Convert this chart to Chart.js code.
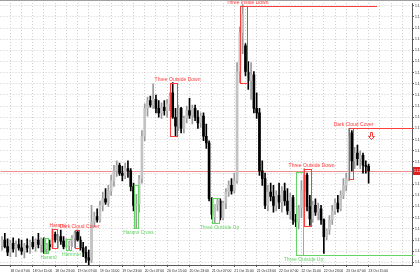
<!DOCTYPE html>
<html>
<head>
<meta charset="utf-8">
<script src="https://cdn.jsdelivr.net/npm/chart.js@4"></script>
<style>
  html, body { margin: 0; padding: 0; background: #fff; }
  canvas { display: block; }
</style>
</head>
<body>
<canvas id="chart" width="420" height="280"></canvas>
<script>
// hourly candles, 18 Oct 04:00 .. 23 Oct 15:00
const opens = [1.1155,1.1160,1.1154,1.1149,1.1157,1.1152,1.1156,1.1153,1.1150,1.1155,1.1153,1.1158,1.1154,1.1160,1.1156,1.1161,1.1152,1.1156,1.1154,1.1165,
  1.1160,1.1163,1.1159,1.1154,1.1155,1.1158,1.1162,1.1167,1.1160,1.1153,1.1149,1.1144,1.1142,1.1176,1.1181,1.1178,1.1191,1.1197,1.1194,1.1204,
  1.1213,1.1222,1.1227,1.1220,1.1218,1.1224,1.1222,1.1208,1.1191,1.1192,1.1215,1.1253,1.1278,1.1285,1.1281,1.1286,1.1278,1.1274,1.1279,1.1276,
  1.1282,1.1292,1.1270,1.1262,1.1278,1.1260,1.1269,1.1276,1.1272,1.1278,1.1270,1.1265,1.1271,1.1253,1.1247,1.1197,1.1181,1.1192,1.1195,1.1180,
  1.1193,1.1203,1.1209,1.1204,1.1213,1.1311,1.1346,1.1334,1.1310,1.1303,1.1308,1.1278,1.1274,1.1222,1.1215,1.1191,1.1203,1.1199,1.1191,1.1200,
  1.1194,1.1204,1.1195,1.1186,1.1198,1.1178,1.1176,1.1189,1.1204,1.1218,1.1190,1.1179,1.1191,1.1185,1.1188,1.1178,1.1163,1.1169,1.1178,1.1186,
  1.1193,1.1188,1.1200,1.1209,1.1215,1.1256,1.1231,1.1238,1.1233,1.1236,1.1227,1.1226];
const highs = [1.1163,1.1166,1.1161,1.1160,1.1162,1.1159,1.1161,1.1160,1.1157,1.1161,1.1160,1.1163,1.1161,1.1166,1.1162,1.1162,1.1157,1.1160,1.1170,1.1167,
  1.1165,1.1169,1.1163,1.1161,1.1159,1.1164,1.1168,1.1169,1.1163,1.1158,1.1154,1.1151,1.1191,1.1185,1.1188,1.1195,1.1203,1.1206,1.1209,1.1218,
  1.1227,1.1231,1.1229,1.1226,1.1229,1.1231,1.1224,1.1211,1.1201,1.1218,1.1258,1.1282,1.1288,1.1289,1.1300,1.1290,1.1285,1.1283,1.1285,1.1286,
  1.1292,1.1301,1.1278,1.1281,1.1279,1.1271,1.1280,1.1287,1.1281,1.1281,1.1276,1.1274,1.1274,1.1264,1.1249,1.1198,1.1191,1.1197,1.1197,1.1195,
  1.1206,1.1213,1.1215,1.1220,1.1319,1.1351,1.1371,1.1336,1.1320,1.1319,1.1311,1.1292,1.1278,1.1231,1.1220,1.1209,1.1211,1.1209,1.1204,1.1211,
  1.1208,1.1211,1.1206,1.1202,1.1200,1.1183,1.1191,1.1213,1.1224,1.1220,1.1200,1.1195,1.1197,1.1193,1.1191,1.1179,1.1170,1.1182,1.1191,1.1197,
  1.1200,1.1204,1.1215,1.1220,1.1260,1.1258,1.1243,1.1245,1.1240,1.1238,1.1231,1.1228];
const lows = [1.1151,1.1153,1.1146,1.1145,1.1149,1.1145,1.1151,1.1147,1.1144,1.1149,1.1148,1.1152,1.1150,1.1153,1.1149,1.1148,1.1148,1.1151,1.1153,1.1158,
  1.1153,1.1156,1.1152,1.1153,1.1151,1.1154,1.1153,1.1159,1.1151,1.1145,1.1140,1.1138,1.1140,1.1172,1.1176,1.1176,1.1186,1.1192,1.1190,1.1200,
  1.1208,1.1217,1.1218,1.1213,1.1215,1.1216,1.1204,1.1186,1.1171,1.1185,1.1211,1.1249,1.1271,1.1279,1.1278,1.1274,1.1270,1.1269,1.1272,1.1270,
  1.1276,1.1269,1.1253,1.1258,1.1256,1.1256,1.1265,1.1269,1.1264,1.1267,1.1260,1.1261,1.1249,1.1242,1.1195,1.1179,1.1175,1.1186,1.1178,1.1178,
  1.1188,1.1199,1.1201,1.1202,1.1211,1.1301,1.1327,1.1307,1.1295,1.1286,1.1274,1.1269,1.1218,1.1209,1.1188,1.1186,1.1195,1.1185,1.1186,1.1188,
  1.1185,1.1191,1.1183,1.1179,1.1174,1.1172,1.1170,1.1180,1.1203,1.1186,1.1173,1.1176,1.1182,1.1178,1.1174,1.1148,1.1160,1.1165,1.1174,1.1183,
  1.1185,1.1186,1.1197,1.1204,1.1213,1.1222,1.1224,1.1227,1.1224,1.1220,1.1220,1.1211];
const closes = [1.1160,1.1154,1.1149,1.1157,1.1152,1.1156,1.1153,1.1150,1.1155,1.1153,1.1158,1.1154,1.1160,1.1156,1.1161,1.1149,1.1156,1.1154,1.1168,1.1160,
  1.1163,1.1159,1.1154,1.1155,1.1158,1.1162,1.1166,1.1160,1.1153,1.1149,1.1144,1.1142,1.1176,1.1181,1.1178,1.1191,1.1197,1.1194,1.1204,1.1213,
  1.1222,1.1227,1.1220,1.1218,1.1224,1.1222,1.1208,1.1191,1.1192,1.1215,1.1253,1.1278,1.1285,1.1281,1.1286,1.1278,1.1274,1.1279,1.1276,1.1282,
  1.1289,1.1270,1.1262,1.1278,1.1260,1.1269,1.1276,1.1272,1.1278,1.1270,1.1265,1.1271,1.1253,1.1247,1.1197,1.1183,1.1192,1.1195,1.1180,1.1193,
  1.1203,1.1209,1.1204,1.1213,1.1311,1.1346,1.1362,1.1311,1.1303,1.1308,1.1278,1.1274,1.1222,1.1215,1.1191,1.1203,1.1199,1.1191,1.1200,1.1194,
  1.1204,1.1195,1.1186,1.1198,1.1178,1.1176,1.1189,1.1204,1.1218,1.1190,1.1179,1.1191,1.1185,1.1188,1.1178,1.1163,1.1169,1.1178,1.1186,1.1193,
  1.1188,1.1200,1.1209,1.1215,1.1253,1.1231,1.1238,1.1233,1.1236,1.1227,1.1226,1.1222];

// candlestick patterns found by the indicator
const patternNames = ["Harami","Harami","Hammer","Dark Cloud Cover","Harami Cross","Three Outside Down","Three Outside Up","Three Inside Down","Three Outside Up","Three Outside Down","Dark Cloud Cover"];
const patternBullish = [true,false,true,false,true,false,true,false,true,false,false];
const patternFrom = [15,18,23,26,47,60,75,85,105,108,124];
const patternTo = [16,19,24,27,48,62,77,87,107,110,125];
const patternTop = [1.1162,1.1170,1.1161,1.1169,1.1209,1.1301,1.1198,1.1370,1.1221,1.1224,1.1260];
const patternBottom = [1.1148,1.1153,1.1151,1.1153,1.1171,1.1253,1.1175,1.1301,1.1147,1.1173,1.1215];
const patternLineTo = [null,null,null,null,null,null,null,134,147,null,147];
const arrowBars = [132];
const arrowPrices = [1.1257];

const yTicks = [1.1140,1.1150,1.1160,1.1170,1.1180,1.1190,1.1200,1.1210,1.1220,1.1230,1.1240,1.1250,
  1.1260,1.1270,1.1280,1.1290,1.1300,1.1310,1.1320,1.1330,1.1340,1.1350,1.1360,1.1370];
const tickLabels = ["18 Oct 07:00","18 Oct 15:00","18 Oct 23:00","19 Oct 07:00","19 Oct 15:00","19 Oct 23:00",
  "20 Oct 07:00","20 Oct 15:00","20 Oct 23:00","21 Oct 07:00","21 Oct 15:00","21 Oct 23:00","22 Oct 07:00",
  "22 Oct 15:00","22 Oct 23:00","23 Oct 07:00","23 Oct 15:00"];

const slotCount = 147; // includes empty space right of the last bar
const categories = [];
for (let i = 0; i < slotCount; i++) {
  const h = 4 + i;
  categories.push(`${18 + Math.floor(h / 24)} Oct ${String(h % 24).padStart(2, "0")}:00`);
}
const labelSet = new Set(tickLabels);

const RED = "#ff3b3b", GREEN = "#66d366";
const gridColor = "#cfcfcf";
const isBull = closes.map((c, i) => c >= opens[i]);
const lastPrice = closes[closes.length - 1];

const overlay = {
  id: "overlay",
  beforeDatasetsDraw(chart) {
    const { ctx, chartArea, scales: { y } } = chart;
    const yp = Math.round(y.getPixelForValue(lastPrice)) + 0.5;
    ctx.save();
    ctx.strokeStyle = "#f08c8c";
    ctx.lineWidth = 1;
    ctx.beginPath();
    ctx.moveTo(chartArea.left, yp);
    ctx.lineTo(chartArea.right, yp);
    ctx.stroke();
    ctx.restore();
  },
  afterDatasetsDraw(chart) {
    const { ctx, scales: { x, y } } = chart;
    ctx.save();
    ctx.lineWidth = 1;
    ctx.font = "5px Arial";
    ctx.textAlign = "center";
    ctx.textBaseline = "middle";
    patternNames.forEach((name, k) => {
      const col = patternBullish[k] ? GREEN : RED;
      const x0 = Math.round(x.getPixelForValue(patternFrom[k])) + 0.5;
      const x1 = Math.round(x.getPixelForValue(patternTo[k]) + 1.5) + 0.5;
      const yt = Math.round(y.getPixelForValue(patternTop[k])) + 0.5;
      const yb = Math.round(y.getPixelForValue(patternBottom[k])) + 0.5;
      ctx.strokeStyle = col;
      ctx.strokeRect(x0, yt, x1 - x0, yb - yt);
      if (patternLineTo[k] !== null) {
        const ly = patternBullish[k] ? yb : yt;
        ctx.beginPath();
        ctx.moveTo(x0, ly);
        ctx.lineTo(x.getPixelForValue(patternLineTo[k]), ly);
        ctx.stroke();
      }
      ctx.fillStyle = col;
      ctx.fillText(name, x1, patternBullish[k] ? yb + 4 : yt - 3.5);
    });
    // signal arrows
    ctx.strokeStyle = RED;
    arrowBars.forEach((b, k) => {
      const ax = Math.round(x.getPixelForValue(b)) + 0.5;
      const ay = Math.round(y.getPixelForValue(arrowPrices[k])) + 0.5;
      ctx.beginPath();
      ctx.moveTo(ax - 1, ay);
      ctx.lineTo(ax + 1, ay);
      ctx.lineTo(ax + 1, ay + 4);
      ctx.lineTo(ax + 3, ay + 4);
      ctx.lineTo(ax, ay + 7);
      ctx.lineTo(ax - 3, ay + 4);
      ctx.lineTo(ax - 1, ay + 4);
      ctx.closePath();
      ctx.stroke();
    });
    ctx.restore();
  },
  afterDraw(chart) {
    const { ctx, chartArea, scales: { y } } = chart;
    const yp = Math.round(y.getPixelForValue(lastPrice));
    ctx.save();
    ctx.fillStyle = "#dd2020";
    ctx.fillRect(chartArea.right + 1, yp - 4, 12, 8);
    ctx.fillStyle = "#fff";
    ctx.font = "3.4px Arial";
    ctx.textBaseline = "middle";
    ctx.fillText(lastPrice.toFixed(4), chartArea.right + 2, yp);
    ctx.fillStyle = "#a0a0a0";
    ctx.fillRect(0, 0, chart.width, 1);
    ctx.restore();
  }
};

new Chart(document.getElementById("chart"), {
  type: "bar",
  data: {
    labels: categories,
    datasets: [
      {
        label: "wick",
        data: lows.map((l, i) => [l, highs[i]]),
        backgroundColor: isBull.map(b => b ? "#9a9a9a" : "#000"),
        barThickness: 1,
        grouped: false,
        order: 2
      },
      {
        label: "body",
        data: opens.map((o, i) => [o, closes[i]]),
        backgroundColor: isBull.map(b => b ? "#c2c2c2" : "#000"),
        borderColor: isBull.map(b => b ? "#9a9a9a" : "#000"),
        borderWidth: 0,
        barThickness: 2,
        minBarLength: 1,
        grouped: false,
        order: 1
      }
    ]
  },
  options: {
    responsive: false,
    devicePixelRatio: 1,
    animation: false,
    layout: { padding: { top: 2, left: 0, right: 0, bottom: 0 } },
    plugins: { legend: { display: false }, tooltip: { enabled: false } },
    scales: {
      x: {
        type: "category",
        offset: true,
        grid: {
          offset: false,
          color: c => c.index % 4 === 3 ? gridColor : "transparent",
          tickLength: 2,
          tickColor: c => labelSet.has(categories[c.index]) ? "#555" : "transparent",
          tickBorderDash: []
        },
        border: { color: "#5a5a5a", dash: [1, 2] },
        ticks: {
          autoSkip: false,
          maxRotation: 0,
          minRotation: 0,
          align: "start",
          padding: 2,
          color: "#222",
          font: { size: 3.4, family: "Arial" },
          callback: (v, i) => labelSet.has(categories[i]) ? categories[i] : ""
        },
        afterFit: s => { s.height = 15; }
      },
      y: {
        position: "right",
        min: 1.11376,
        max: 1.13724,
        afterBuildTicks: s => { s.ticks = yTicks.map(v => ({ value: v })); },
        grid: { color: gridColor, tickLength: 2, tickColor: "#555", tickBorderDash: [] },
        border: { color: "#5a5a5a", dash: [1, 2] },
        ticks: {
          padding: 1,
          color: "#222",
          font: { size: 3.4, family: "Arial" },
          callback: v => v.toFixed(4)
        },
        afterFit: s => { s.width = 8; }
      }
    }
  },
  plugins: [overlay]
});
</script>
</body>
</html>
